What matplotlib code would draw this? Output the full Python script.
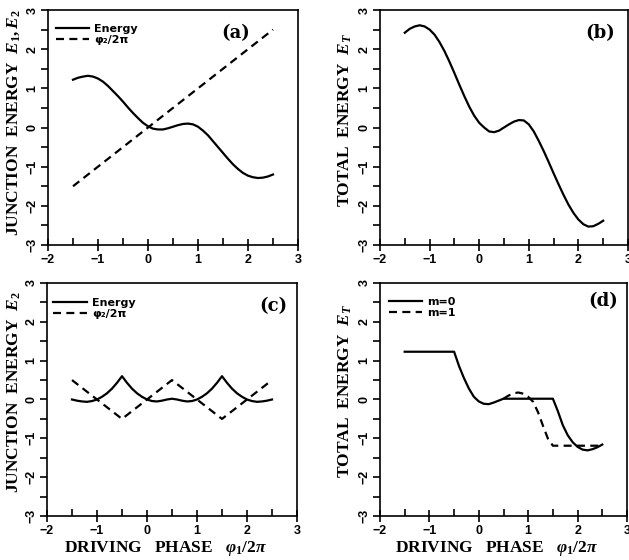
import matplotlib
matplotlib.use("Agg")
import matplotlib.pyplot as plt
from matplotlib.ticker import MultipleLocator

# ---------------- data ----------------
x_grid = [-1.5, -1.4, -1.3, -1.2, -1.1, -1.0, -0.9, -0.8, -0.7, -0.6, -0.5,
          -0.4, -0.3, -0.2, -0.1, 0.0, 0.1, 0.2, 0.3, 0.4, 0.5,
          0.6, 0.7, 0.8, 0.9, 1.0, 1.1, 1.2, 1.3, 1.4, 1.5,
          1.6, 1.7, 1.8, 1.9, 2.0, 2.1, 2.2, 2.3, 2.4, 2.5]

# (a) junction energy and phi2/2pi
a_energy = [1.22, 1.27, 1.30, 1.32, 1.30, 1.25, 1.17, 1.06, 0.93, 0.80, 0.66,
            0.51, 0.37, 0.24, 0.12, 0.03, -0.03, -0.05, -0.05, -0.02, 0.02,
            0.06, 0.09, 0.10, 0.08, 0.02, -0.08, -0.20, -0.35, -0.50, -0.65,
            -0.80, -0.94, -1.06, -1.16, -1.23, -1.27, -1.29, -1.28, -1.25, -1.20]
a_phase_x = [-1.5, 2.5]
a_phase = [-1.5, 2.5]

# (b) total energy
b_total = [2.42, 2.52, 2.58, 2.61, 2.58, 2.50, 2.37, 2.18, 1.95, 1.68, 1.39,
           1.09, 0.80, 0.53, 0.30, 0.12, 0.00, -0.10, -0.12, -0.08, 0.00,
           0.08, 0.15, 0.19, 0.18, 0.08, -0.10, -0.34, -0.60, -0.88, -1.17,
           -1.45, -1.72, -1.97, -2.18, -2.35, -2.47, -2.53, -2.52, -2.46, -2.38]

# (c) junction energy E2 and phi2/2pi
c_energy = [0.00, -0.03, -0.05, -0.06, -0.04, 0.00, 0.07, 0.16, 0.28, 0.43, 0.60,
            0.43, 0.28, 0.16, 0.07, 0.00, -0.04, -0.05, -0.03, 0.00, 0.02,
            0.00, -0.03, -0.05, -0.04, 0.00, 0.07, 0.16, 0.28, 0.43, 0.60,
            0.43, 0.28, 0.16, 0.07, 0.00, -0.04, -0.06, -0.05, -0.03, 0.00]
c_phase_x = [-1.5, -0.5, 0.5, 1.5, 2.5]
c_phase = [0.5, -0.5, 0.5, -0.5, 0.5]

# (d) total energy for m=0 and m=1
d_m0_x = [-1.5, -0.5, -0.4, -0.3, -0.2, -0.1, 0.0, 0.1, 0.2, 0.3, 0.4, 0.5,
          1.5, 1.6, 1.7, 1.8, 1.9, 2.0, 2.1, 2.2, 2.3, 2.4, 2.5]
d_m0 = [1.23, 1.23, 0.86, 0.55, 0.28, 0.07, -0.05, -0.11, -0.12, -0.08, -0.03, 0.02,
        0.02, -0.30, -0.66, -0.92, -1.10, -1.22, -1.29, -1.31, -1.28, -1.23, -1.16]
d_m1_x = [0.5, 0.6, 0.7, 0.8, 0.9, 1.0, 1.1, 1.2, 1.3, 1.4, 1.5, 2.5]
d_m1 = [0.02, 0.10, 0.16, 0.18, 0.15, 0.07, -0.06, -0.33, -0.68, -1.01, -1.19, -1.19]

x_ticks = [-2, -1, 0, 1, 2, 3]
y_ticks = [-3, -2, -1, 0, 1, 2, 3]

# ---------------- style ----------------
plt.rcParams['mathtext.fontset'] = 'custom'
plt.rcParams['mathtext.rm'] = 'Liberation Serif:bold'
plt.rcParams['mathtext.it'] = 'Liberation Serif:bold:italic'
plt.rcParams['mathtext.bf'] = 'Liberation Serif:bold'

W, H = 629, 560
fig = plt.figure(figsize=(W / 100, H / 100), dpi=100)


def make_ax(left, top, right, bottom):
    return fig.add_axes([left / W, 1 - bottom / H, (right - left) / W, (bottom - top) / H])


LW = 1.6
DASH = (0, (3.6, 2.4))
label_font = dict(family='Liberation Serif', weight='bold', size=12.5)
tick_font = dict(family='Liberation Sans', weight='bold', size=9)
leg_font = dict(family='DejaVu Sans', weight='bold', size=8)


def style(ax):
    ax.set_xlim(-2, 3)
    ax.set_ylim(-3, 3)
    ax.set_xticks(x_ticks)
    ax.set_yticks(y_ticks)
    ax.xaxis.set_minor_locator(MultipleLocator(0.5))
    ax.yaxis.set_minor_locator(MultipleLocator(0.5))
    for s in ax.spines.values():
        s.set_linewidth(1.2)
    ax.tick_params(axis='x', which='major', direction='inout', length=9, width=1.2, pad=2)
    ax.tick_params(axis='x', which='minor', direction='in', length=5, width=1.2)
    ax.tick_params(axis='y', which='both', direction='out', length=5, width=1.2, pad=2)
    ax.tick_params(axis='y', labelrotation=90)
    for lab in ax.get_xticklabels() + ax.get_yticklabels():
        lab.set_fontfamily(tick_font['family'])
        lab.set_fontweight('bold')
        lab.set_fontsize(tick_font['size'])
    for lab in ax.get_yticklabels():
        lab.set_verticalalignment('center')


axa = make_ax(48, 10, 298, 245)
axb = make_ax(380, 10, 628, 245)
axc = make_ax(47, 283, 297, 516)
axd = make_ax(380, 283, 627, 516)
for ax in (axa, axb, axc, axd):
    style(ax)

# (a)
axa.plot(x_grid, a_energy, color='black', lw=LW, label='Energy')
axa.plot(a_phase_x, a_phase, color='black', lw=LW, ls=DASH, label='φ₂/2π')
# (b)
axb.plot(x_grid, b_total, color='black', lw=LW)
# (c)
axc.plot(x_grid, c_energy, color='black', lw=LW, label='Energy')
axc.plot(c_phase_x, c_phase, color='black', lw=LW, ls=DASH, label='φ₂/2π')
# (d)
axd.plot(d_m0_x, d_m0, color='black', lw=LW, label='m=0')
axd.plot(d_m1_x, d_m1, color='black', lw=LW, ls=DASH, label='m=1')

for ax, anchor in ((axa, (0.03, 0.94)), (axc, (0.025, 0.935)), (axd, (0.035, 0.94))):
    ax.legend(loc='upper left', bbox_to_anchor=anchor, frameon=False,
              prop=leg_font, handlelength=3.0, handletextpad=0.5,
              labelspacing=0.05, borderpad=0, borderaxespad=0)

# panel letters
pl = dict(family='DejaVu Serif', weight='bold', size=13, ha='right', va='center')
axa.text(0.808, 0.902, '(a)', transform=axa.transAxes, **pl)
axb.text(0.948, 0.902, '(b)', transform=axb.transAxes, **pl)
axc.text(0.960, 0.901, '(c)', transform=axc.transAxes, **pl)
axd.text(0.964, 0.923, '(d)', transform=axd.transAxes, **pl)

# axis labels
fig.text(14 / W, 1 - 123 / H, 'JUNCTION  ENERGY  $E_1,E_2$', rotation=90,
         ha='center', va='center', **label_font)
fig.text(345 / W, 1 - 120 / H, 'TOTAL  ENERGY  $E_T$', rotation=90,
         ha='center', va='center', **label_font)
fig.text(14 / W, 1 - 392 / H, 'JUNCTION  ENERGY  $E_2$', rotation=90,
         ha='center', va='center', **label_font)
fig.text(345 / W, 1 - 391 / H, 'TOTAL  ENERGY  $E_T$', rotation=90,
         ha='center', va='center', **label_font)
fig.text(166 / W, 1 - 548 / H, 'DRIVING   PHASE   $\\varphi_1/2\\pi$',
         ha='center', va='center', **label_font)
fig.text(497 / W, 1 - 548 / H, 'DRIVING   PHASE   $\\varphi_1/2\\pi$',
         ha='center', va='center', **label_font)

fig.savefig('out.png', dpi=100)
